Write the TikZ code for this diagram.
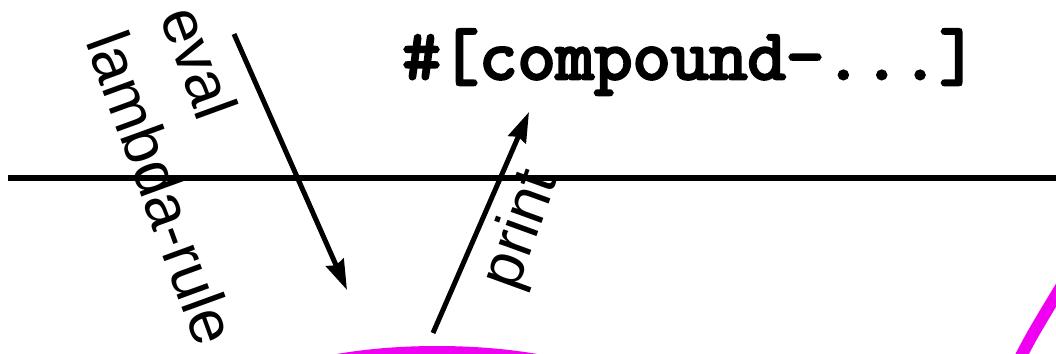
\documentclass[tikz,border=0pt]{standalone}
\usepackage{fontspec}
\setmainfont{Liberation Sans}
\newfontfamily\codefont{Latin Modern Mono}[FakeBold=4,FakeStretch=1.04]
\usetikzlibrary{arrows.meta}
\definecolor{blobmag}{RGB}{240,0,240}

\begin{document}
\begin{tikzpicture}[x=1pt,y=-1pt,
    lbl/.style={font=\fontsize{62}{62}\selectfont, inner sep=0pt},
    flow/.style={line width=5pt,-{Stealth[length=30pt,width=19pt,inset=3pt]}},
    blob/.style={draw=blobmag, line width=12pt}]

\useasboundingbox (0,0) rectangle (1056,353);
\clip (0,0) rectangle (1056,353);

\coordinate (L) at (8,178);
\coordinate (R) at (1062,178);
\draw[line width=6pt] (L)--(R);

\node[inner sep=0pt, anchor=base, font=\codefont\fontsize{71.6}{72}\selectfont] (obj) at (690,79) {\#[compound-...]};

\coordinate (evaltop) at (234,34);
\coordinate (evalbot) at (347,290);
\coordinate (printbot) at (433,333);
\coordinate (printtop) at (529,112);

\draw[flow] (evaltop)--(evalbot);
\draw[flow] (printbot)--(printtop);

\node[lbl, rotate=-70] (eval) at (200,62) {eval};
\node[lbl, rotate=-70] (rule) at (162,188) {lambda-rule};
\node[lbl, rotate=70] (print) at (522,230) {print};

\draw[blob, line width=10pt] (437,411) ellipse [x radius=200, y radius=60];
\draw[blob] (1018,362) .. controls (1032,335) .. (1064,282);

\end{tikzpicture}
\end{document}
